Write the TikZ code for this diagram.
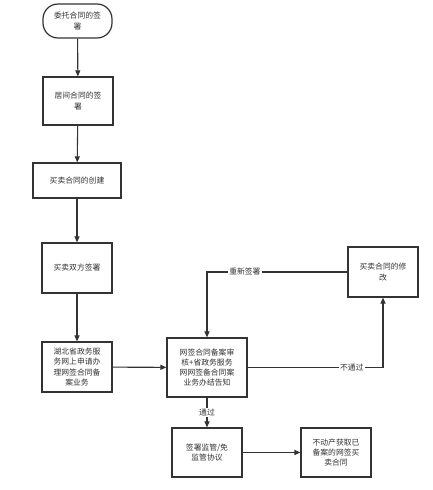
\documentclass[tikz,border=0pt]{standalone}
\usepackage{fontspec}
\setmainfont{Noto Sans CJK SC}
\usetikzlibrary{arrows.meta}
\definecolor{ln}{HTML}{333333}
\definecolor{tx}{HTML}{333333}
\tikzset{
  box/.style={draw=ln, line width=1.2pt, fill=white, align=center, text=tx, font=\fontsize{7.8}{10.2}\selectfont, inner sep=0pt},
  conn/.style={draw=ln, line width=1.1pt, -{Triangle[length=6pt,width=5pt]}},
  lbl/.style={fill=white, text=tx, font=\fontsize{7.8}{9}\selectfont, inner sep=1pt}
}
\begin{document}
\begin{tikzpicture}[x=1pt,y=-1pt]
\useasboundingbox[fill=white] (0,0) rectangle (433,490);
\node[box, rounded corners=15pt, minimum width=69pt, minimum height=34pt] (n1) at (77.5,21) {委托合同的签\\署};
\node[box, minimum width=70pt, minimum height=48pt] (n2) at (78,101) {居间合同的签\\署};
\node[box, minimum width=88pt, minimum height=35pt] (n3) at (77,180.5) {买卖合同的创建};
\node[box, minimum width=70pt, minimum height=50pt] (n4) at (77,268) {买卖双方签署};
\node[box, minimum width=70pt, minimum height=50pt] (n5) at (77,367) {湖北省政务服\\务网上申请办\\理网签合同备\\案业务};
\node[box, minimum width=80pt, minimum height=59pt] (n6) at (207,367.5) {网签合同备案审\\核+省政务服务\\网网签备合同案\\业务办结告知};
\node[box, minimum width=70pt, minimum height=50pt] (n7) at (383,272) {买卖合同的修\\改};
\node[box, minimum width=70pt, minimum height=49pt] (n8) at (207,452.5) {签署监管/免\\监管协议};
\node[box, minimum width=70pt, minimum height=49pt] (n9) at (336,452.5) {不动产获取已\\备案的网签买\\卖合同};
\coordinate (c1) at (n6.east -| n7.south);
\coordinate (c2) at (n7.west -| n6.north);
\draw[conn] (n1) -- (n2);
\draw[conn] (n2) -- (n3);
\draw[conn] (n3) -- (n4);
\draw[conn] (n4) -- (n5);
\draw[conn] (n5) -- (n6);
\draw[conn] (n6.east) -- node[lbl, pos=0.77] {不通过} (c1) -- (n7.south);
\draw[conn] (n7.west) -- node[lbl, pos=0.73] {重新签署} (c2) -- (n6.north);
\draw[conn] (n6.south) -- node[lbl] {通过} (n8.north);
\draw[conn] (n8) -- (n9);
\end{tikzpicture}
\end{document}
